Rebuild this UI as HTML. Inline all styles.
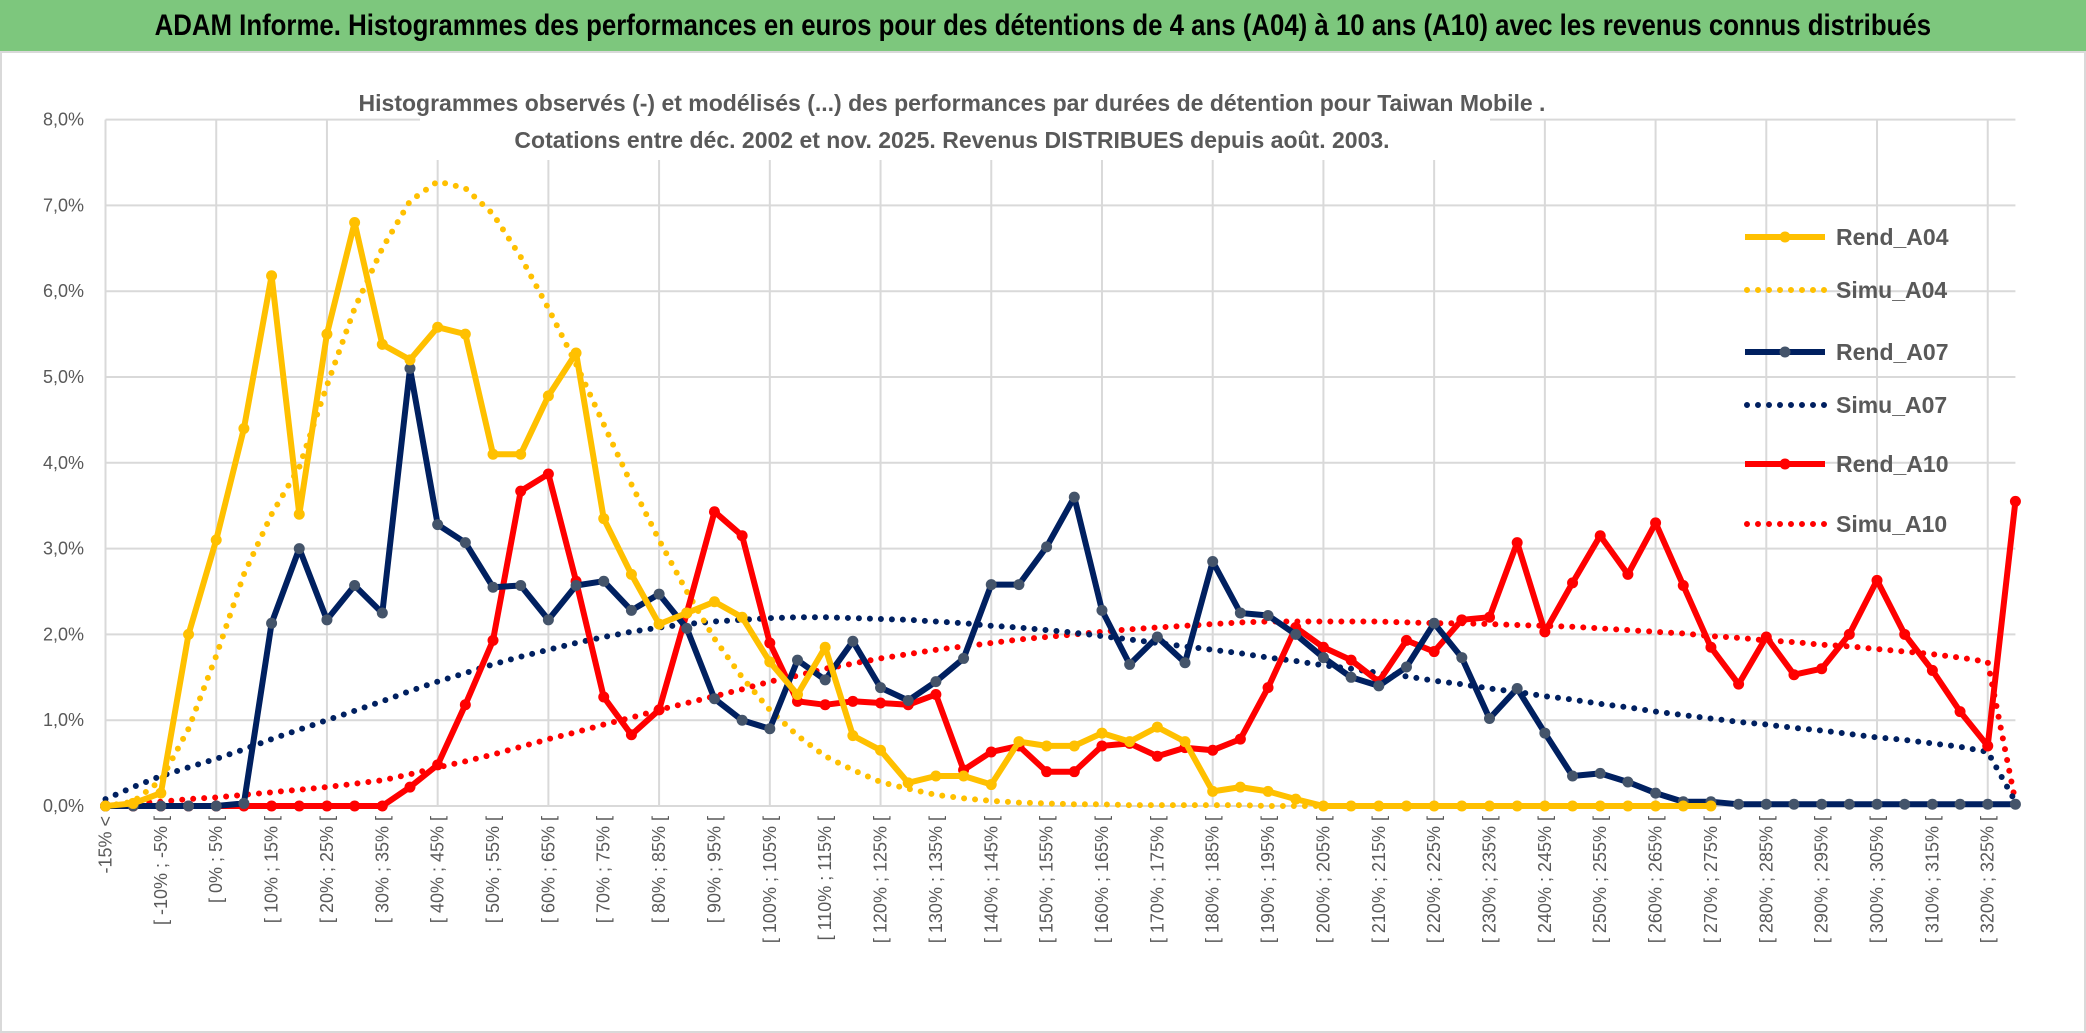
<!DOCTYPE html>
<html><head><meta charset="utf-8">
<style>
html,body{margin:0;padding:0;background:#fff;}
body{width:2086px;height:1033px;overflow:hidden;font-family:"Liberation Sans",sans-serif;}
#title{position:absolute;left:0;top:0;width:2086px;height:52px;background:#7dc77d;color:#000;font-weight:bold;font-size:30px;line-height:52px;text-align:center;white-space:nowrap;overflow:hidden;}
#title span{display:inline-block;transform:scaleX(0.86);transform-origin:center;}
svg{position:absolute;left:0;top:0;}
</style></head><body>
<div id="title"><span>ADAM Informe. Histogrammes des performances en euros pour des détentions de 4 ans (A04) à 10 ans (A10) avec les revenus connus distribués</span></div>
<svg id="chart" width="2086" height="1033"></svg>
<script>
const yTicks=[0,1,2,3,4,5,6,7,8];
const rendA04=[0,0.03,0.15,2.0,3.1,4.4,6.18,3.4,5.5,6.8,5.38,5.2,5.58,5.5,4.1,4.1,4.78,5.28,3.35,2.7,2.12,2.25,2.38,2.2,1.68,1.3,1.85,0.82,0.65,0.27,0.35,0.35,0.25,0.75,0.7,0.7,0.85,0.75,0.92,0.75,0.17,0.22,0.17,0.08,0,0,0,0,0,0,0,0,0,0,0,0,0,0,0];
const simuA04=[0,0.05,0.3,0.9,1.75,2.7,3.4,3.95,4.9,5.8,6.5,7.05,7.28,7.2,6.9,6.4,5.8,5.15,4.45,3.75,3.1,2.5,1.95,1.5,1.12,0.82,0.58,0.42,0.28,0.2,0.13,0.09,0.06,0.04,0.03,0.02,0.02,0.01,0.01,0.01,0.01,0.01,0,0,0,0,0,0,0,0,0,0,0,0,0,0,0,0,0];
const rendA07=[0,0,0,0,0,0.03,2.13,3.0,2.17,2.57,2.25,5.1,3.28,3.07,2.55,2.57,2.17,2.57,2.62,2.28,2.47,2.07,1.25,1.0,0.9,1.7,1.47,1.92,1.38,1.23,1.45,1.72,2.58,2.58,3.02,3.6,2.28,1.65,1.97,1.67,2.85,2.25,2.22,2.0,1.73,1.5,1.4,1.62,2.13,1.73,1.02,1.37,0.85,0.35,0.38,0.28,0.15,0.05,0.05,0.02,0.02,0.02,0.02,0.02,0.02,0.02,0.02,0.02,0.02,0.02];
const simuA07=[0.08,0.22,0.35,0.45,0.55,0.66,0.78,0.89,1.0,1.11,1.22,1.34,1.45,1.55,1.65,1.74,1.82,1.9,1.97,2.03,2.08,2.12,2.15,2.17,2.19,2.2,2.2,2.19,2.18,2.17,2.15,2.13,2.1,2.08,2.05,2.02,1.98,1.94,1.9,1.86,1.82,1.78,1.73,1.69,1.64,1.6,1.55,1.51,1.46,1.42,1.37,1.33,1.28,1.24,1.19,1.15,1.1,1.06,1.02,0.98,0.95,0.91,0.88,0.84,0.8,0.77,0.73,0.69,0.63,0.05];
const rendA10=[0,0,0,0,0,0,0,0,0,0,0,0.22,0.48,1.18,1.93,3.67,3.87,2.62,1.27,0.83,1.12,2.25,3.43,3.15,1.9,1.22,1.18,1.22,1.2,1.18,1.3,0.42,0.63,0.7,0.4,0.4,0.7,0.73,0.58,0.68,0.65,0.78,1.38,2.08,1.85,1.7,1.45,1.93,1.8,2.17,2.2,3.07,2.03,2.6,3.15,2.7,3.3,2.57,1.85,1.42,1.97,1.53,1.6,2.0,2.63,2.0,1.58,1.1,0.7,3.55];
const simuA10=[0,0.03,0.05,0.08,0.1,0.13,0.16,0.19,0.22,0.26,0.3,0.37,0.45,0.52,0.6,0.69,0.78,0.86,0.95,1.03,1.12,1.2,1.28,1.36,1.45,1.52,1.6,1.66,1.72,1.77,1.82,1.86,1.9,1.94,1.97,2.0,2.03,2.06,2.08,2.1,2.12,2.14,2.15,2.15,2.15,2.15,2.15,2.14,2.13,2.13,2.12,2.11,2.1,2.09,2.07,2.05,2.03,2.01,1.98,1.96,1.93,1.91,1.88,1.86,1.83,1.8,1.77,1.73,1.68,0.05];
const categories=["-15% <"];
for(let k=1;k<70;k++){const lo=-15+5*(k-1);categories.push("[ "+lo+"% ; "+(lo+5)+"% [");}

const NS="http://www.w3.org/2000/svg";
const svg=document.getElementById('chart');
const X0=105.5,DX=27.68,Y0=806,DY=85.8;
const xs=i=>X0+DX*i;
const ys=v=>Y0-DY*v;
function mk(tag,attrs,parent){const e=document.createElementNS(NS,tag);for(const k in attrs)e.setAttribute(k,attrs[k]);(parent||svg).appendChild(e);return e;}

mk('rect',{x:1,y:52,width:2084,height:980,fill:'none',stroke:'#d9d9d9','stroke-width':2});
yTicks.forEach(t=>{
  const g=mk('line',{x1:xs(0),x2:xs(69),y1:ys(t),y2:ys(t),stroke:'#d9d9d9','stroke-width':2});
  
  
  const l=mk('text',{x:84,y:ys(t)+6,'text-anchor':'end','font-size':18,fill:'#595959'});
  l.textContent=t.toFixed(1).replace('.',',')+'%';
  
  
});
for(let i=0;i<70;i+=4){
  const g=mk('line',{x1:xs(i),x2:xs(i),y1:ys(8),y2:ys(0),stroke:'#d9d9d9','stroke-width':2});
  
  
}
mk('rect',{x:420,y:80,width:1070,height:80,fill:'#fff'});
const s1=mk('text',{x:952,y:111,'text-anchor':'middle','font-size':23,'font-weight':'bold',fill:'#595959'});
s1.textContent="Histogrammes observés (-) et modélisés (...) des performances  par durées de détention pour Taiwan Mobile .";


const s2=mk('text',{x:952,y:148,'text-anchor':'middle','font-size':23,'font-weight':'bold',fill:'#595959'});
s2.textContent="Cotations entre déc. 2002 et nov. 2025. Revenus DISTRIBUES depuis août. 2003.";


for(let i=0;i<70;i+=2){
  const t=mk('text',{transform:`translate(${xs(i)+6},816) rotate(-90)`,'text-anchor':'end','font-size':18,fill:'#595959'});
  t.textContent=categories[i];
  
  
}
function pts(arr){return arr.map((v,i)=>xs(i).toFixed(1)+','+ys(v).toFixed(1)).join(' ');}
function dotted(arr,color,name){
  const p=mk('polyline',{points:pts(arr),fill:'none',stroke:color,'stroke-width':6,'stroke-linecap':'round','stroke-dasharray':'0 11'});
  
  
}
function solid(arr,color,mcolor,name){
  const p=mk('polyline',{points:pts(arr),fill:'none',stroke:color,'stroke-width':6,'stroke-linejoin':'round'});
  
  
  arr.forEach((v,i)=>{
    const c=mk('circle',{cx:xs(i),cy:ys(v),r:5.5,fill:mcolor});
    
    
  });
}
dotted(simuA10,'#ff0000','simu-a10-line');
dotted(simuA07,'#002060','simu-a07-line');
dotted(simuA04,'#ffc000','simu-a04-line');
solid(rendA10,'#ff0000','#ff0000','rend-a10-line');
solid(rendA07,'#002060','#44546a','rend-a07-line');
solid(rendA04,'#ffc000','#ffc000','rend-a04-line');
const leg=[["Rend_A04",'#ffc000','#ffc000',false,237],["Simu_A04",'#ffc000',null,true,290],["Rend_A07",'#002060','#44546a',false,352],["Simu_A07",'#002060',null,true,405],["Rend_A10",'#ff0000','#ff0000',false,464],["Simu_A10",'#ff0000',null,true,524]];
leg.forEach(([n,c,m,d,y])=>{
  const g=mk('g',{});
  
  
  if(d) mk('line',{x1:1747,x2:1825,y1:y,y2:y,stroke:c,'stroke-width':6,'stroke-linecap':'round','stroke-dasharray':'0 11'},g);
  else {mk('line',{x1:1745,x2:1825,y1:y,y2:y,stroke:c,'stroke-width':6},g);mk('circle',{cx:1785,cy:y,r:5.5,fill:m},g);}
  const t=mk('text',{x:1836,y:y+8,'font-size':23,'font-weight':'bold',fill:'#595959'},g);
  t.textContent=n;
});
</script>
</body></html>
